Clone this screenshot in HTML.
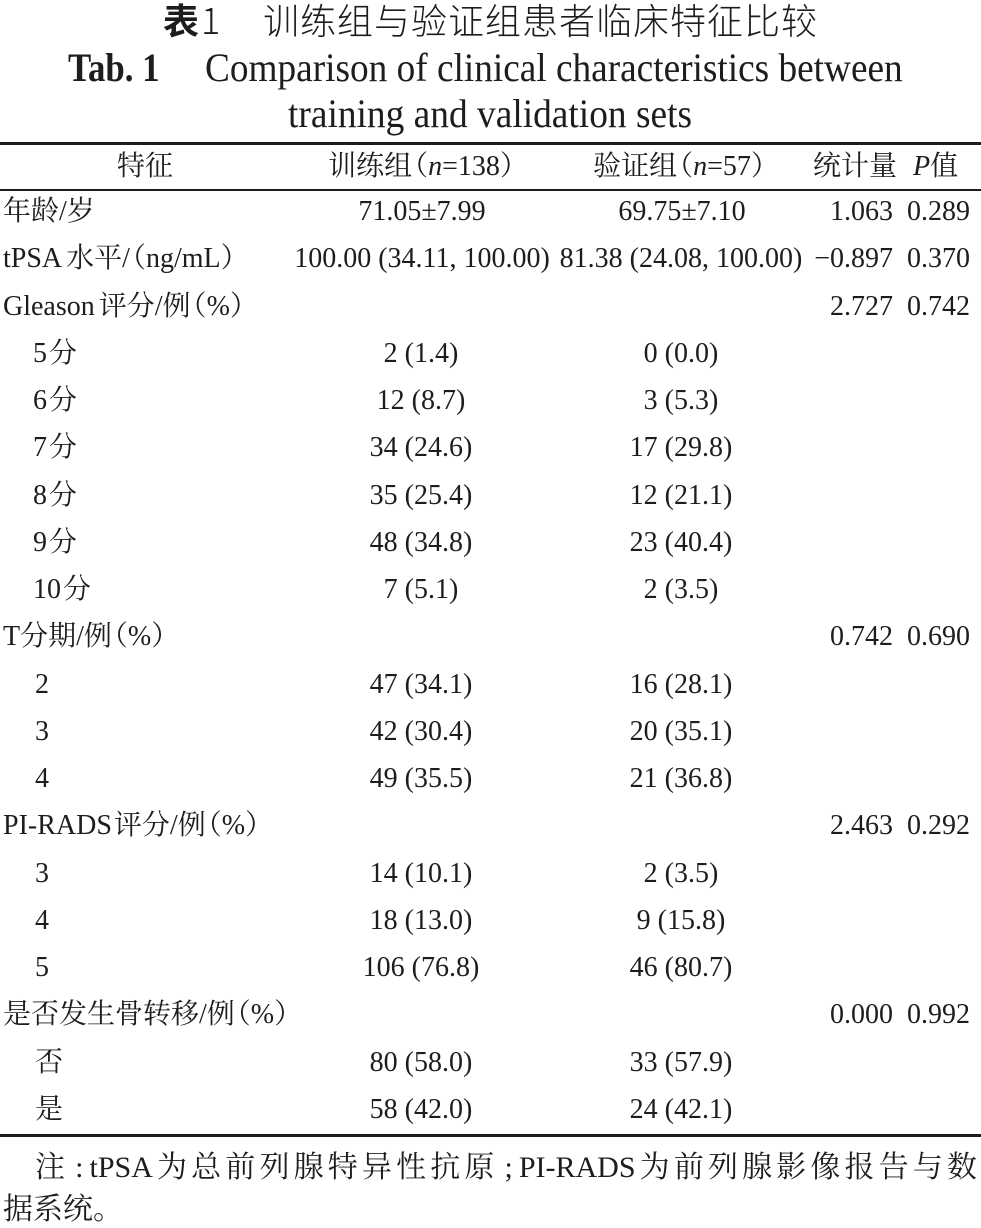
<!DOCTYPE html>
<html>
<head>
<meta charset="utf-8">
<style>
  html,body{margin:0;padding:0;background:#fff;}
  body{width:981px;height:1228px;position:relative;overflow:hidden;color:#1e1c1d;}
  .t{position:absolute;white-space:nowrap;font-family:"Liberation Serif","Noto Serif CJK SC",serif;font-size:28px;line-height:28px;}
  .c{width:400px;text-align:center;}
  .r{text-align:right;}
  .rule{position:absolute;left:0;width:981px;background:#1e1c1d;}
  .g{margin-left:4px;}
  .p{margin-left:-12px;}
</style>
</head>
<body>
<!-- Title line 1 -->
<div class="t" style="left:163px;top:1px;font-family:'Noto Sans CJK SC',sans-serif;font-size:36px;line-height:36px;font-weight:bold;">表<span style="font-weight:300;margin-left:2px;">1</span></div>
<div class="t" style="left:263px;top:1px;font-family:'Noto Sans CJK SC',sans-serif;font-size:36px;line-height:36px;letter-spacing:1px;font-weight:300;">训练组与验证组患者临床特征比较</div>
<!-- Title line 2 -->
<div class="t" style="left:68px;top:48px;font-size:40px;line-height:40px;font-weight:bold;transform:scaleX(0.87);transform-origin:0 0;">Tab. 1</div>
<div class="t" style="left:205px;top:48px;font-size:40px;line-height:40px;transform:scaleX(0.932);transform-origin:0 0;">Comparison of clinical characteristics between</div>
<!-- Title line 3 -->
<div class="t" style="left:288px;top:94px;font-size:40px;line-height:40px;transform:scaleX(0.935);transform-origin:0 0;">training and validation sets</div>

<!-- rules -->
<div class="rule" style="top:142px;height:3px;"></div>
<div class="rule" style="top:189px;height:1.5px;"></div>
<div class="rule" style="top:1134px;height:3px;"></div>

<!-- header -->
<div class="t c" style="left:-55px;top:153px;">特征</div>
<div class="t c" style="left:228px;top:153px;">训练组<span class="p">（</span><i>n</i>=138）</div>
<div class="t c" style="left:486px;top:153px;">验证组<span class="p">（</span><i>n</i>=57）</div>
<div class="t" style="left:813px;top:153px;">统计量</div>
<div class="t" style="left:913px;top:153px;"><i>P</i>值</div>

<!-- 0 -->
<div class="t" style="left:3px;top:198px;">年龄/岁</div>
<div class="t c" style="left:222px;top:198px;">71.05±7.99</div>
<div class="t c" style="left:482px;top:198px;">69.75±7.10</div>
<div class="t r" style="right:88px;top:198px;">1.063</div>
<div class="t r" style="right:11px;top:198px;">0.289</div>
<!-- 1 -->
<div class="t" style="left:3px;top:245px;">tPSA<span class="g">水平/</span><span class="p">（</span>ng/mL）</div>
<div class="t c" style="left:222px;top:245px;">100.00 (34.11, 100.00)</div>
<div class="t c" style="left:481px;top:245px;">81.38 (24.08, 100.00)</div>
<div class="t r" style="right:88px;top:245px;">−0.897</div>
<div class="t r" style="right:11px;top:245px;">0.370</div>
<!-- 2 -->
<div class="t" style="left:3px;top:292.5px;">Gleason<span class="g">评分/例</span><span class="p">（</span>%）</div>
<div class="t r" style="right:88px;top:292.5px;">2.727</div>
<div class="t r" style="right:11px;top:292.5px;">0.742</div>
<!-- 3 -->
<div class="t" style="left:33px;top:340px;">5<span style="margin-left:2px">分</span></div>
<div class="t c" style="left:221px;top:340px;">2 (1.4)</div>
<div class="t c" style="left:481px;top:340px;">0 (0.0)</div>
<!-- 4 -->
<div class="t" style="left:33px;top:387px;">6<span style="margin-left:2px">分</span></div>
<div class="t c" style="left:221px;top:387px;">12 (8.7)</div>
<div class="t c" style="left:481px;top:387px;">3 (5.3)</div>
<!-- 5 -->
<div class="t" style="left:33px;top:434px;">7<span style="margin-left:2px">分</span></div>
<div class="t c" style="left:221px;top:434px;">34 (24.6)</div>
<div class="t c" style="left:481px;top:434px;">17 (29.8)</div>
<!-- 6 -->
<div class="t" style="left:33px;top:481.5px;">8<span style="margin-left:2px">分</span></div>
<div class="t c" style="left:221px;top:481.5px;">35 (25.4)</div>
<div class="t c" style="left:481px;top:481.5px;">12 (21.1)</div>
<!-- 7 -->
<div class="t" style="left:33px;top:529px;">9<span style="margin-left:2px">分</span></div>
<div class="t c" style="left:221px;top:529px;">48 (34.8)</div>
<div class="t c" style="left:481px;top:529px;">23 (40.4)</div>
<!-- 8 -->
<div class="t" style="left:33px;top:576px;">10<span style="margin-left:2px">分</span></div>
<div class="t c" style="left:221px;top:576px;">7 (5.1)</div>
<div class="t c" style="left:481px;top:576px;">2 (3.5)</div>
<!-- 9 -->
<div class="t" style="left:3px;top:623px;">T分期/例<span class="p">（</span>%）</div>
<div class="t r" style="right:88px;top:623px;">0.742</div>
<div class="t r" style="right:11px;top:623px;">0.690</div>
<!-- 10 -->
<div class="t" style="left:35px;top:670.5px;">2</div>
<div class="t c" style="left:221px;top:670.5px;">47 (34.1)</div>
<div class="t c" style="left:481px;top:670.5px;">16 (28.1)</div>
<!-- 11 -->
<div class="t" style="left:35px;top:717.5px;">3</div>
<div class="t c" style="left:221px;top:717.5px;">42 (30.4)</div>
<div class="t c" style="left:481px;top:717.5px;">20 (35.1)</div>
<!-- 12 -->
<div class="t" style="left:35px;top:765px;">4</div>
<div class="t c" style="left:221px;top:765px;">49 (35.5)</div>
<div class="t c" style="left:481px;top:765px;">21 (36.8)</div>
<!-- 13 -->
<div class="t" style="left:3px;top:812px;">PI-RADS<span style="margin-left:2px">评分/例</span><span class="p">（</span>%）</div>
<div class="t r" style="right:88px;top:812px;">2.463</div>
<div class="t r" style="right:11px;top:812px;">0.292</div>
<!-- 14 -->
<div class="t" style="left:35px;top:859.5px;">3</div>
<div class="t c" style="left:221px;top:859.5px;">14 (10.1)</div>
<div class="t c" style="left:481px;top:859.5px;">2 (3.5)</div>
<!-- 15 -->
<div class="t" style="left:35px;top:906.5px;">4</div>
<div class="t c" style="left:221px;top:906.5px;">18 (13.0)</div>
<div class="t c" style="left:481px;top:906.5px;">9 (15.8)</div>
<!-- 16 -->
<div class="t" style="left:35px;top:954px;">5</div>
<div class="t c" style="left:221px;top:954px;">106 (76.8)</div>
<div class="t c" style="left:481px;top:954px;">46 (80.7)</div>
<!-- 17 -->
<div class="t" style="left:3px;top:1001px;">是否发生骨转移/例<span class="p">（</span>%）</div>
<div class="t r" style="right:88px;top:1001px;">0.000</div>
<div class="t r" style="right:11px;top:1001px;">0.992</div>
<!-- 18 -->
<div class="t" style="left:35px;top:1048.5px;">否</div>
<div class="t c" style="left:221px;top:1048.5px;">80 (58.0)</div>
<div class="t c" style="left:481px;top:1048.5px;">33 (57.9)</div>
<!-- 19 -->
<div class="t" style="left:35px;top:1095.5px;">是</div>
<div class="t c" style="left:221px;top:1095.5px;">58 (42.0)</div>
<div class="t c" style="left:481px;top:1095.5px;">24 (42.1)</div>

<!-- note -->
<div class="t" style="left:35px;top:1153px;width:942px;font-size:30px;line-height:30px;text-align:justify;text-align-last:justify;">注<span style="margin:0 6px;">:</span>tPSA为总前列腺特异性抗原<span style="margin:0 6px;">;</span>PI-RADS为前列腺影像报告与数</div>
<div class="t" style="left:3px;top:1195px;font-size:30px;line-height:30px;">据系统。</div>
</body>
</html>
